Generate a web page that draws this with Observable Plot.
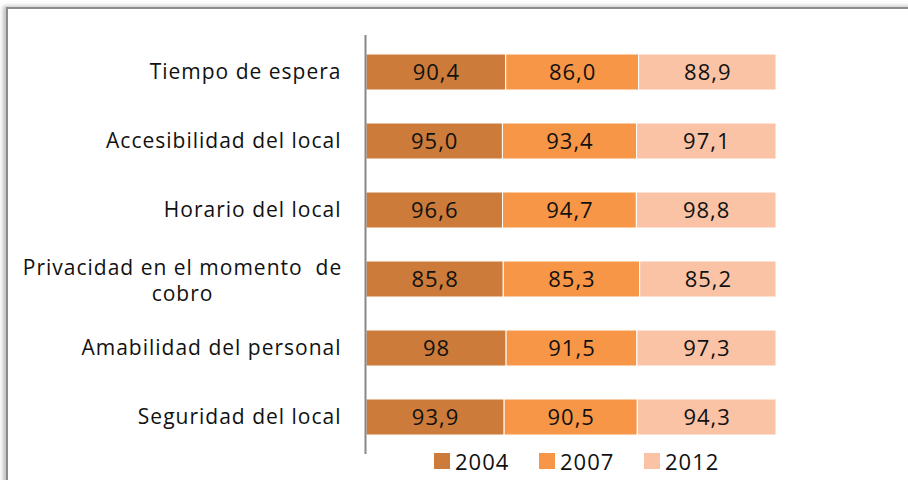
<!DOCTYPE html>
<html>
<head>
<meta charset="utf-8">
<script src="https://cdn.jsdelivr.net/npm/d3@7"></script>
<script src="https://cdn.jsdelivr.net/npm/@observablehq/plot@0.6"></script>
<style>
  html, body { margin: 0; padding: 0; background: #fff; }
  #wrap { position: relative; width: 908px; height: 480px; overflow: hidden; font-family: "Open Sans", sans-serif; letter-spacing: 1px; }
  #frame { position: absolute; left: 6px; top: 7px; width: 1000px; height: 1000px;
           border-top: 2px solid #8c8c8c; border-left: 2px solid #8c8c8c;
           box-shadow: -3px -1px 4px rgba(0,0,0,0.25); }
  #chart { position: absolute; left: 0; top: 0; }
  #chart svg text { letter-spacing: 1px; }
  #legend { position: absolute; top: 446px; left: 434px; display: flex; font-size: 22px; color: #111; }
  .item { display: flex; align-items: center; width: 105px; }
  .sw { width: 16px; height: 16px; margin-right: 5px; }
</style>
</head>
<body>
<div id="wrap">
  <div id="frame"></div>
  <div id="chart"></div>
  <div id="legend"></div>
</div>
<script>
const categories = ["Tiempo de espera", "Accesibilidad del local", "Horario del local", "Privacidad en el momento  de\ncobro", "Amabilidad del personal", "Seguridad del local"];
const years = ["2004", "2007", "2012"];
const values2004 = [90.4, 95.0, 96.6, 85.8, 98, 93.9];
const values2007 = [86.0, 93.4, 94.7, 85.3, 91.5, 90.5];
const values2012 = [88.9, 97.1, 98.8, 85.2, 97.3, 94.3];
const labels2004 = ["90,4", "95,0", "96,6", "85,8", "98", "93,9"];
const labels2007 = ["86,0", "93,4", "94,7", "85,3", "91,5", "90,5"];
const labels2012 = ["88,9", "97,1", "98,8", "85,2", "97,3", "94,3"];
const colors = ["#CC7B3A", "#F79646", "#FAC3A6"];

const series = [values2004, values2007, values2012];
const seriesLabels = [labels2004, labels2007, labels2012];
const data = [];
categories.forEach((c, i) => {
  years.forEach((y, j) => {
    data.push({category: c, year: y, value: series[j][i], label: seriesLabels[j][i]});
  });
});

const single = categories.filter(c => !c.includes("\n"));
const multi = categories.filter(c => c.includes("\n"));

const chart = Plot.plot({
  width: 908,
  height: 480,
  marginTop: 35,
  marginBottom: 26,
  marginLeft: 366,
  marginRight: 132,
  style: {fontFamily: "Open Sans, sans-serif", background: "transparent"},
  x: {axis: null},
  y: {domain: categories, paddingInner: 0.48, paddingOuter: 0.24, axis: null},
  color: {domain: years, range: colors},
  marks: [
    Plot.barX(data, Plot.stackX({offset: "normalize", x: "value", y: "category", fill: "year", stroke: "white", strokeWidth: 1, order: years})),
    Plot.text(data, Plot.stackX({offset: "normalize", x: "value", y: "category", z: "year", order: years, text: "label", fontSize: 22, fill: "#111"})),
    Plot.ruleX([0], {stroke: "#888", strokeWidth: 2, dx: -1}),
    Plot.text(single, {y: d => d, text: d => d, frameAnchor: "left", textAnchor: "end", dx: -25, fontSize: 21, fill: "#111"}),
    Plot.text(multi, {y: d => d, text: d => d, frameAnchor: "left", textAnchor: "middle", dx: -184, fontSize: 21, fill: "#111", lineHeight: 1.25})
  ]
});
document.getElementById("chart").appendChild(chart);

const legend = document.getElementById("legend");
years.forEach((y, j) => {
  const it = document.createElement("div");
  it.className = "item";
  it.innerHTML = `<div class="sw" style="background:${colors[j]}"></div><span>${y}</span>`;
  legend.appendChild(it);
});
</script>
</body>
</html>
